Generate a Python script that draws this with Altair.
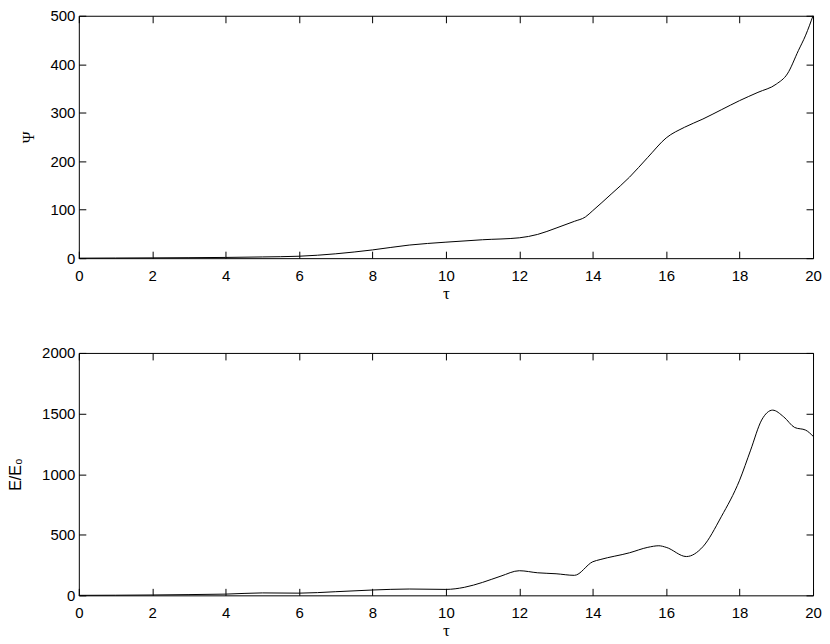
import altair as alt
import pandas as pd

# ---- data ----
tau_psi = [0, 1, 2, 3, 4, 5, 6, 7, 8, 9, 10, 11, 12, 12.5, 13, 13.5, 13.8, 14, 14.5,
           15, 15.5, 16, 16.5, 17, 17.5, 18, 18.5, 19, 19.3, 19.6, 19.8, 20]
psi_vals = [0, 0.3, 0.6, 1, 1.5, 2.5, 4, 9, 17, 27, 33, 38, 42, 49, 62, 76, 85, 98, 132,
            167, 208, 248, 270, 287, 306, 325, 342, 359, 380, 428, 460, 500]

tau_e = [0, 1, 2, 3, 4, 5, 6, 7, 8, 9, 10, 10.5, 11, 11.5, 12, 12.5, 13, 13.5, 14, 14.2,
         15, 15.5, 15.8, 16, 16.55, 17, 17.5, 18, 18.3, 18.6, 18.9, 19.2, 19.5, 19.8, 20]
e_vals = [0, 1, 3, 6, 10, 20, 18, 30, 44, 52, 49, 66, 107, 159, 203, 186, 178, 165, 277, 295,
          351, 396, 409, 396, 320, 401, 648, 950, 1198, 1446, 1528, 1473, 1385, 1363, 1313]

x_ticks = [0, 2, 4, 6, 8, 10, 12, 14, 16, 18, 20]
psi_ticks = [0, 100, 200, 300, 400, 500]
e_ticks = [0, 500, 1000, 1500, 2000]

W, H = 736, 243
SANS = "Liberation Sans"
SERIF = "Liberation Serif"
LFS = 15


def panel(tau, vals, ydomain, yticks, ytitle, ytitle_font, ytitle_x):
    df = pd.DataFrame({"tau": tau, "v": vals})
    base = alt.Chart(df)
    xs = alt.Scale(domain=[0, 20], nice=False, zero=False)
    ys = alt.Scale(domain=ydomain, nice=False)

    main = base.mark_line(color="black", strokeWidth=1, interpolate="monotone").encode(
        x=alt.X("tau:Q", scale=xs, axis=alt.Axis(
            orient="bottom", values=x_ticks, format="d", ticks=False, tickSize=0,
            domain=False, grid=False,
            labelFont=SANS, labelFontSize=LFS, labelColor="black", labelPadding=10,
            labelFlush=False,
            title="τ", titleFont=SERIF, titleFontSize=17, titleFontWeight="normal",
            titleColor="black", titlePadding=2)),
        y=alt.Y("v:Q", scale=ys, axis=alt.Axis(
            orient="left", values=yticks, format="d", ticks=False, tickSize=0,
            domain=False, grid=False,
            labelFont=SANS, labelFontSize=LFS, labelColor="black", labelPadding=4,
            labelFlush=False,
            title=ytitle, titleFont=ytitle_font, titleFontSize=16, titleFontWeight="normal",
            titleColor="black", titleAngle=270, titleBaseline="alphabetic",
            titleX=ytitle_x)),
    )

    def tick_axis(orient, values, offset):
        return alt.Axis(orient=orient, values=values, offset=offset, labels=False,
                        domain=False, grid=False, ticks=True, tickSize=7,
                        tickColor="black", tickWidth=1, title="")

    # inward ticks on bottom (top-orient axis shifted down) and left (right-orient shifted left)
    g1 = base.mark_line(opacity=0).encode(
        x=alt.X("tau:Q", scale=xs, axis=tick_axis("top", x_ticks, -H)),
        y=alt.Y("v:Q", scale=ys, axis=tick_axis("right", yticks, -W)),
    )
    # inward ticks on top and right
    g2 = base.mark_line(opacity=0).encode(
        x=alt.X("tau:Q", scale=xs, axis=tick_axis("bottom", x_ticks, -H)),
        y=alt.Y("v:Q", scale=ys, axis=tick_axis("left", yticks, -W)),
    )
    return alt.layer(main, g1, g2).resolve_axis(x="independent", y="independent").properties(
        width=W, height=H)


top = panel(tau_psi, psi_vals, [0, 500], psi_ticks, "Ψ", SERIF, -45)
bottom = panel(tau_e, e_vals, [0, 2000], e_ticks, "E/E₀", SANS, -58)

chart = alt.vconcat(top, bottom, spacing=43).configure_view(
    stroke="black", strokeWidth=1
).properties(
    padding={"left": -1, "top": -1, "right": 0, "bottom": 0},
    background="white",
)

chart.save("out.html", embed_options={"renderer": "svg", "actions": False})
